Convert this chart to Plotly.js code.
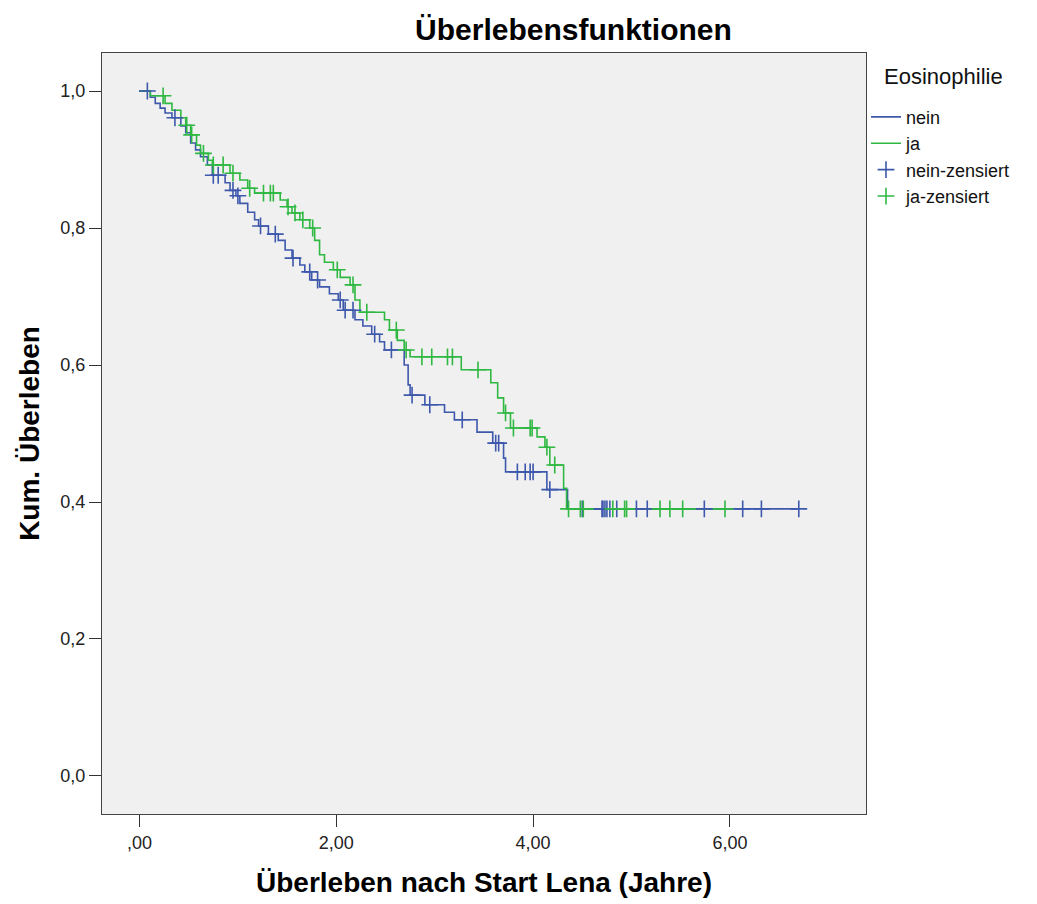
<!DOCTYPE html>
<html>
<head>
<meta charset="utf-8">
<script src="https://cdn.plot.ly/plotly-3.0.1.min.js"></script>
<style>body{margin:0;background:#fff;} #chart{width:1037px;height:904px;}</style>
</head>
<body>
<div id="chart"></div>
<script>
// ---- Data ----
const legendTitle = "Eosinophilie";
const groupNames = ["nein", "ja"];
const censorNames = ["nein-zensiert", "ja-zensiert"];

// Eosinophilie = nein : event times (years) and survival after each event
const neinTimes = [0.11,0.16,0.21,0.26,0.33,0.42,0.47,0.52,0.57,0.62,0.69,0.74,0.87,0.92,0.98,1.02,1.10,1.17,1.21,1.31,1.41,1.48,1.55,1.63,1.68,1.75,1.83,1.93,2.02,2.07,2.19,2.27,2.36,2.44,2.49,2.69,2.73,2.75,2.90,3.10,3.20,3.43,3.59,3.70,3.72,4.14,4.35];
const neinSurv  = [0.991,0.982,0.975,0.968,0.961,0.949,0.939,0.924,0.914,0.904,0.892,0.877,0.866,0.855,0.847,0.836,0.823,0.812,0.803,0.791,0.782,0.768,0.756,0.746,0.736,0.724,0.714,0.704,0.695,0.680,0.666,0.657,0.645,0.634,0.622,0.600,0.571,0.556,0.542,0.531,0.520,0.502,0.486,0.464,0.444,0.418,0.390];
const neinCensored = [0.08,0.36,0.75,0.80,0.95,1.00,1.23,1.38,1.56,1.73,1.81,2.04,2.09,2.17,2.39,2.56,2.77,2.95,3.28,3.62,3.65,3.84,3.92,3.97,4.00,4.17,4.50,4.70,4.71,4.73,4.75,4.78,4.85,5.05,5.16,5.74,6.13,6.32,6.70];

// Eosinophilie = ja
const jaTimes = [0.11,0.26,0.33,0.42,0.47,0.52,0.58,0.62,0.70,0.74,0.92,1.02,1.10,1.17,1.43,1.50,1.55,1.63,1.73,1.78,1.83,1.88,1.97,2.04,2.14,2.19,2.24,2.49,2.54,2.62,2.69,2.75,3.27,3.57,3.64,3.70,3.77,4.04,4.12,4.17,4.31,4.34];
const jaSurv  = [0.993,0.982,0.972,0.961,0.950,0.936,0.921,0.909,0.899,0.892,0.880,0.870,0.858,0.851,0.841,0.831,0.822,0.812,0.800,0.782,0.761,0.750,0.739,0.728,0.717,0.695,0.677,0.666,0.651,0.636,0.622,0.612,0.593,0.574,0.552,0.530,0.508,0.495,0.480,0.454,0.420,0.390];
const jaCensored = [0.24,0.48,0.53,0.65,0.75,0.85,0.95,1.12,1.26,1.33,1.36,1.51,1.58,1.66,1.76,2.01,2.17,2.31,2.61,2.71,2.87,2.97,3.13,3.18,3.44,3.72,3.80,3.97,3.99,4.14,4.22,4.36,4.48,4.51,4.81,4.93,4.95,5.29,5.39,5.52,5.95];

const xTickVals = [0, 2, 4, 6];
const xTickText = [",00", "2,00", "4,00", "6,00"];
const yTickVals = [0, 0.2, 0.4, 0.6, 0.8, 1.0];
const yTickText = ["0,0", "0,2", "0,4", "0,6", "0,8", "1,0"];

// ---- Helpers ----
function survAt(times, surv, t) {
  let s = 1;
  for (let i = 0; i < times.length; i++) { if (times[i] <= t) s = surv[i]; }
  return s;
}
function stepTrace(times, surv, cens, name, color) {
  const end = Math.max(times[times.length-1], cens[cens.length-1]);
  const xs = [0].concat(times, [end]);
  const ys = [1].concat(surv, [survAt(times, surv, end)]);
  return {x: xs, y: ys, mode: "lines", name: name, line: {shape: "hv", color: color, width: 1.6}, hoverinfo: "skip"};
}
function censTrace(times, surv, cens, name, color) {
  return {x: cens, y: cens.map(t => survAt(times, surv, t)), mode: "markers", name: name,
    marker: {symbol: "cross-thin", size: 12, color: color, line: {color: color, width: 1.6}}, hoverinfo: "skip"};
}

const blue = "#3e58ac", green = "#2fb842";
const traces = [
  stepTrace(neinTimes, neinSurv, neinCensored, groupNames[0], blue),
  stepTrace(jaTimes, jaSurv, jaCensored, groupNames[1], green),
  censTrace(neinTimes, neinSurv, neinCensored, censorNames[0], blue),
  censTrace(jaTimes, jaSurv, jaCensored, censorNames[1], green)
];

const fontFam = "Liberation Sans, Arial, sans-serif";
const layout = {
  width: 1037, height: 904,
  paper_bgcolor: "#ffffff", plot_bgcolor: "#f0f0f0",
  margin: {l: 102, r: 171, t: 53, b: 90},
  font: {family: fontFam, color: "#111"},
  title: {text: "<b>Überlebensfunktionen</b>", x: 0.553, xref: "container", xanchor: "center",
          y: 0.967, yref: "container", yanchor: "middle", font: {size: 30, family: fontFam, color: "#000"}},
  xaxis: {range: [-0.381, 7.383], tickvals: xTickVals, ticktext: xTickText, ticks: "outside", ticklen: 12,
          tickcolor: "#333", showgrid: false, zeroline: false, showline: true, mirror: true, linecolor: "#444", linewidth: 1,
          tickfont: {size: 18, color: "#222"},
          title: {text: "<b>Überleben nach Start Lena (Jahre)</b>", standoff: 20, font: {size: 28, color: "#000"}}},
  yaxis: {range: [-0.0555, 1.0555], tickvals: yTickVals, ticktext: yTickText, ticks: "outside", ticklen: 12,
          tickcolor: "#333", showgrid: false, zeroline: false, showline: true, mirror: true, linecolor: "#444", linewidth: 1,
          tickfont: {size: 18, color: "#222"},
          title: {text: "<b>Kum. Überleben</b>", standoff: 12, font: {size: 28, color: "#000"}}},
  legend: {x: 1.0, xanchor: "left", y: 0.94, yanchor: "top", bgcolor: "rgba(0,0,0,0)",
           font: {size: 18, color: "#111"}, tracegroupgap: 0, itemwidth: 30},
  annotations: [{text: legendTitle, xref: "paper", yref: "paper", x: 1.021, y: 0.9685,
                 xanchor: "left", yanchor: "middle", showarrow: false, font: {size: 22, color: "#111"}}],
  showlegend: true
};

Plotly.newPlot("chart", traces, layout, {displayModeBar: false, staticPlot: true});
</script>
</body>
</html>
